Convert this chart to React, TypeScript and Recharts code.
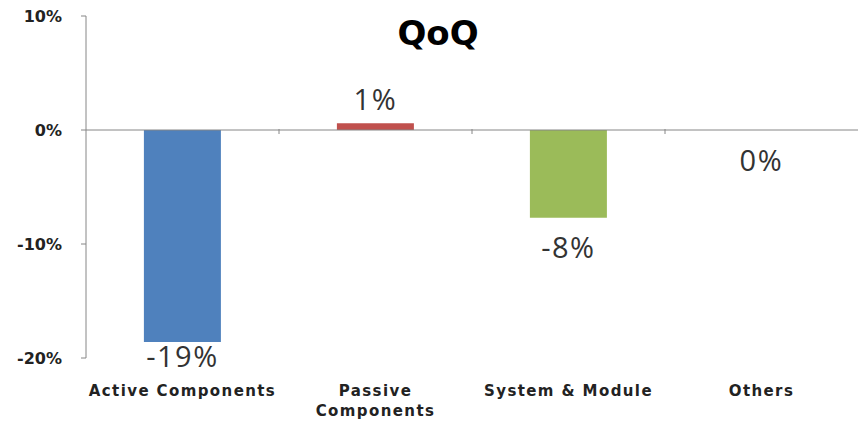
import { BarChart, Bar, XAxis, YAxis, Cell, LabelList, ReferenceLine } from "recharts";

const CATEGORIES = ["Active Components", "Passive Components", "System & Module", "Others"];
const TICK_LINES = [["Active Components"], ["Passive", "Components"], ["System & Module"], ["Others"]];
const QOQ = [-18.6, 0.6, -7.7, 0];
const COLORS = ["#4F81BD", "#C0504D", "#9BBB59", "#8064A2"];
const Y_TICKS = [-20, -10, 0, 10];

const W = 858;
const H = 421;
const Y_AXIS_W = 86;
const BAND = (W - Y_AXIS_W) / CATEGORIES.length;
const AXIS_COLOR = "#868686";

const data = CATEGORIES.map((name, i) => ({ name, value: QOQ[i] }));

function CategoryTick(props: any) {
  const { x, y, index } = props;
  const lines = TICK_LINES[index] ?? [];
  return (
    <g>
      {index > 0 && (
        <line x1={x - BAND / 2} x2={x - BAND / 2} y1={129} y2={134} stroke={AXIS_COLOR} />
      )}
      <text
        x={x}
        y={y}
        textAnchor="middle"
        fontFamily="DejaVu Sans"
        fontWeight="bold"
        fontSize={15}
        letterSpacing={1.4}
        fill="#222"
      >
        {lines.map((l: string, i: number) => (
          <tspan key={l} x={x} dy={i === 0 ? 30 : 20}>
            {l}
          </tspan>
        ))}
      </text>
    </g>
  );
}

function ValueLabel(props: any) {
  const { x, y, width, height, value } = props;
  const top = Math.min(y, y + height);
  const bottom = Math.max(y, y + height);
  // positive values sit above the bar, the rest below (kept inside the plot)
  const cy = value > 0 ? top - 25 : Math.min(bottom + 29, 355);
  return (
    <text
      x={x + width / 2}
      y={cy}
      textAnchor="middle"
      dominantBaseline="central"
      fontFamily="Open Sans"
      fontSize={29}
      letterSpacing={1.5}
      fill="#333"
    >
      {`${Math.round(value)}%`}
    </text>
  );
}

export default function App() {
  return (
    <div style={{ position: "absolute", left: 0, top: 0, width: W, height: H, background: "#fff" }}>
      <BarChart
        width={W}
        height={H}
        data={data}
        margin={{ top: 16, right: 0, bottom: 0, left: 0 }}
        barCategoryGap="30%"
      >
        <text
          x={438}
          y={33}
          textAnchor="middle"
          dominantBaseline="central"
          fontFamily="DejaVu Sans"
          fontWeight="bold"
          fontSize={34}
          fill="#000"
        >
          QoQ
        </text>
        <XAxis
          dataKey="name"
          axisLine={false}
          tickLine={false}
          height={63}
          interval={0}
          tick={<CategoryTick />}
        />
        <YAxis
          width={Y_AXIS_W}
          domain={[-20, 10]}
          ticks={Y_TICKS}
          allowDataOverflow
          stroke={AXIS_COLOR}
          tickSize={5}
          tickMargin={19}
          tickFormatter={(v: number) => `${v}%`}
          tick={{ fill: "#222", fontFamily: "DejaVu Sans", fontWeight: "bold", fontSize: 16 }}
        />
        <ReferenceLine y={0} stroke={AXIS_COLOR} />
        <Bar
          dataKey="value"
          isAnimationActive={false}
          minPointSize={(v: number) => (v === 0 ? 1 : 0)}
        >
          {data.map((d, i) => (
            <Cell key={d.name} fill={COLORS[i]} fillOpacity={d.value === 0 ? 0 : 1} />
          ))}
          <LabelList dataKey="value" content={<ValueLabel />} />
        </Bar>
      </BarChart>
    </div>
  );
}
